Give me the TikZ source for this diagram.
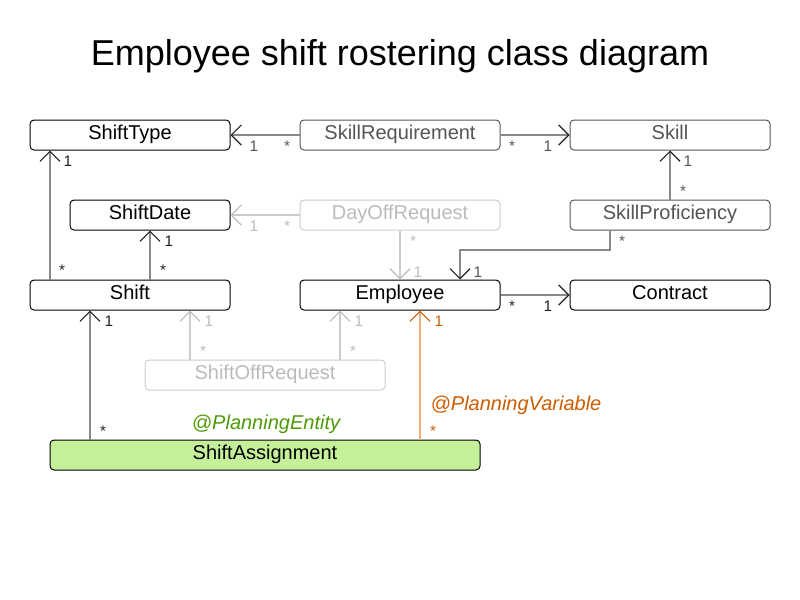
\documentclass[tikz,border=0pt]{standalone}
\usepackage{fontspec}
\setmainfont{Liberation Sans}
\usetikzlibrary{arrows.meta}
\definecolor{lineG}{HTML}{888888}
\definecolor{tipG}{HTML}{222222}
\definecolor{midT}{HTML}{555555}
\definecolor{lightT}{HTML}{BBBBBB}
\definecolor{lightB}{HTML}{CCCCCC}
\definecolor{lightL}{HTML}{CCCCCC}
\definecolor{entityFill}{HTML}{C5F09A}
\definecolor{entityT}{HTML}{4E9A06}
\definecolor{varT}{HTML}{CE5C00}
\definecolor{varL}{HTML}{E9AD80}
\begin{document}
\begin{tikzpicture}[x=0.75pt,y=-0.75pt,
  cls/.style={draw=black, rounded corners=3pt, minimum height=22.5pt, inner sep=0pt,
    text height=10.5pt, text depth=3.2pt,
    font=\fontsize{15}{18}\selectfont, line width=0.75pt},
  midcls/.style={cls, draw=midT, text=midT},
  lightcls/.style={cls, draw=lightB, text=lightT},
  mult/.style={anchor=base, inner sep=0pt, font=\fontsize{11.5}{13}\selectfont, text=tipG},
  midmult/.style={mult, text=midT},
  lightmult/.style={mult, text=lightT},
  assoc/.style={draw=lineG, line width=1pt, -{Straight Barb[length=7.5pt,width=15pt,color=tipG,line width=0.9pt]}},
  lightassoc/.style={draw=lightL, line width=1pt, -{Straight Barb[length=7.5pt,width=15pt,color=lightT,line width=0.9pt]}},
  varassoc/.style={draw=varL, line width=1pt, -{Straight Barb[length=7.5pt,width=15pt,color=varT,line width=0.9pt]}},
]
\useasboundingbox (0,0) rectangle (800,600);
\node[anchor=base, inner sep=0pt, font=\fontsize{27}{31}\selectfont] (title) at (400,65) {Employee shift rostering class diagram};

% classes
\node[cls, minimum width=150pt] (st) at (130,135) {ShiftType};
\node[midcls, minimum width=150pt] (sr) at (400,135) {SkillRequirement};
\node[midcls, minimum width=150pt] (sk) at (670,135) {Skill};
\node[cls, minimum width=120pt] (sd) at (150,215) {ShiftDate};
\node[lightcls, minimum width=150pt] (dor) at (400,215) {DayOffRequest};
\node[midcls, minimum width=150pt] (sp) at (670,215) {SkillProficiency};
\node[cls, minimum width=150pt] (sh) at (130,295) {Shift};
\node[cls, minimum width=150pt] (em) at (400,295) {Employee};
\node[cls, minimum width=150pt] (co) at (670,295) {Contract};
\node[lightcls, minimum width=180pt] (sor) at (265,375) {ShiftOffRequest};
\node[cls, fill=entityFill, minimum width=322.5pt] (sa) at (265,455) {ShiftAssignment};

% connectors
\draw[assoc] (sr.west) -- (st.east);
\draw[assoc] (sr.east) -- (sk.west);
\draw[lightassoc] (dor.west) -- (sd.east);
\draw[lightassoc] (dor.south) -- (em.north);
\draw[assoc] (sp.north) -- (sk.south);
\draw[assoc] (610,0 |- sp.south) |- (460,250) -- (460,0 |- em.north);
\draw[assoc] (em.east) -- (co.west);
\draw[assoc] (50,0 |- sh.north) -- (50,0 |- st.south);
\draw[assoc] (sh.north -| sd.south) -- (sd.south);
\draw[lightassoc] (190,0 |- sor.north) -- (190,0 |- sh.south);
\draw[lightassoc] (340,0 |- sor.north) -- (340,0 |- em.south);
\draw[assoc] (90,0 |- sa.north) -- (90,0 |- sh.south);
\draw[varassoc] (420,0 |- sa.north) -- (420,0 |- em.south);

% multiplicities
\node[midmult] (m1) at (254,151) {1};
\node[midmult] (m2) at (287,151) {*};
\node[midmult] (m3) at (512,151) {*};
\node[midmult] (m4) at (548,151) {1};
\node[lightmult] (m5) at (254,231) {1};
\node[lightmult] (m6) at (287,231) {*};
\node[lightmult] (m7) at (413,246) {*};
\node[lightmult] (m8) at (418,277) {1};
\node[midmult] (m9) at (688,166) {1};
\node[midmult] (m10) at (683,196) {*};
\node[midmult] (m11) at (622,246) {*};
\node[midmult] (m12) at (478,277) {1};
\node[mult] (m13) at (512,311) {*};
\node[mult] (m14) at (548,311) {1};
\node[mult] (m15) at (68,166) {1};
\node[mult] (m16) at (62,275) {*};
\node[mult] (m17) at (169,246) {1};
\node[mult] (m18) at (163,275) {*};
\node[lightmult] (m19) at (209,326) {1};
\node[lightmult] (m20) at (203,356) {*};
\node[lightmult] (m21) at (359,326) {1};
\node[lightmult] (m22) at (353,356) {*};
\node[mult] (m23) at (109,326) {1};
\node[mult] (m24) at (103,436) {*};
\node[mult, text=varT] (m25) at (439,326) {1};
\node[mult, text=varT] (m26) at (433,436) {*};

% annotations
\node[anchor=base, inner sep=0pt, font=\fontsize{15}{18}\selectfont\itshape, text=entityT] (pe) at (266,429) {@PlanningEntity};
\node[anchor=base, inner sep=0pt, font=\fontsize{15}{18}\selectfont\itshape, text=varT] (pv) at (516,410) {@PlanningVariable};
\end{tikzpicture}
\end{document}
